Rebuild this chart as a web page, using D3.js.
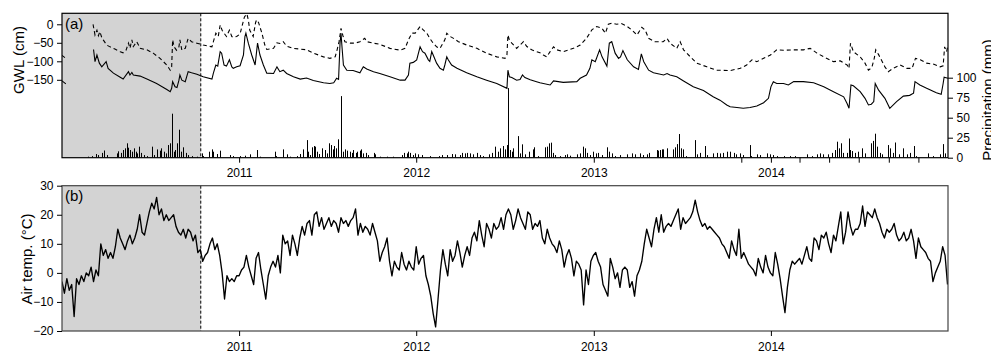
<!DOCTYPE html>
<html>
<head>
<meta charset="utf-8">
<script src="https://cdn.jsdelivr.net/npm/d3@7"></script>
<style>
    body { margin: 0; background: #fff; }
    svg { font-family: "Liberation Sans", Arial, sans-serif; }
    .axis text { font-size: 12px; fill: #000; }
    .axis line { stroke: #000; }
    .panel-label, .axis-title { font-size: 15px; fill: #000; }
</style>
</head>
<body>
<svg id="chart"></svg>
<script>
// ---- data ----
const startDay = '2010-01-01';
const endDay = '2015-01-01';
const shadeEnd = '2010-10-14';   // end of grey (calibration) period

// groundwater level [days since start, cm], null = gap in record
const gwlSolid = [[0,-153],[8,-161],[30,null],
    [65,-68],[68,-101],[72,-83],[77,-105],[82,-115],[91,-101],[95,-119],[106,-132],[120,-143],[126,-148],[137,-128],[140,-137],[144,-130],[147,-137],[161,-140],[175,-148],[195,-160],[216,-176],[223,-182],[226,-173],[228,-155],[233,-169],[237,-171],[241,-151],[243,-137],[247,-151],[254,-155],[260,-128],[267,-131],[278,-135],[291,-142],[309,-148],[312,-132],[317,-110],[321,-113],[326,-74],[329,-78],[334,-110],[339,-113],[345,-96],[350,-115],[353,-119],[360,-115],[367,-112],
    [374,-83],[377,-33],[379,-24],[384,-51],[391,-83],[398,-110],[403,-51],[408,-83],[415,-110],[422,-132],[436,-133],[443,-115],[449,-128],[456,-124],[463,-133],[477,-142],[491,-148],[504,-145],[518,-152],[539,-158],[552,-160],[560,-158],[566,-146],[570,-149],[573,-51],[575,-24],[577,-60],[580,-110],[587,-124],[600,-125],[614,-131],[621,-115],[628,-121],[642,-128],[655,-133],[676,-142],[697,-151],[707,-151],[714,-137],[717,-105],[724,-103],
    [731,-96],[738,-61],[743,-74],[748,-78],[755,-96],[758,-100],[762,-74],[765,-83],[772,-105],[779,-119],[786,-124],[789,-110],[793,-88],[796,-96],[803,-110],[814,-119],[834,-131],[855,-142],[875,-151],[896,-160],[917,-173],[919,-124],[922,-142],[927,-144],[937,-151],[944,-149],[949,-137],[954,-144],[965,-150],[978,-155],[985,-158],[1006,-164],[1013,-153],[1033,-157],[1061,-155],[1068,-146],[1081,-137],[1088,-119],
    [1092,-96],[1099,-101],[1108,-69],[1113,-88],[1123,-113],[1128,-51],[1133,-47],[1140,-78],[1147,-92],[1151,-88],[1156,-71],[1165,-96],[1178,-115],[1188,-122],[1194,-80],[1199,-101],[1209,-124],[1219,-131],[1240,-137],[1247,-133],[1253,-137],[1267,-142],[1281,-153],[1301,-169],[1322,-179],[1342,-196],[1356,-205],[1370,-218],[1377,-223],[1391,-225],[1404,-227],[1418,-225],[1432,-221],[1446,-212],[1456,-200],
    [1461,-169],[1466,-155],[1473,-160],[1487,-160],[1497,-164],[1508,-155],[1528,-155],[1549,-158],[1570,-169],[1590,-182],[1611,-196],[1618,-214],[1622,-227],[1626,-164],[1631,-166],[1645,-182],[1655,-200],[1662,-218],[1668,-216],[1673,-209],[1676,-160],[1683,-178],[1696,-200],[1706,-227],[1720,-209],[1734,-194],[1747,-192],[1755,-186],[1758,-155],[1768,-164],[1782,-173],[1802,-185],[1812,-189],[1816,-160],[1818,-143],[1826,-146]];

const gwlDashed = [[0,-84],[6,-90],[30,null],
    [64,0],[68,-29],[72,-16],[75,-31],[78,-20],[82,-36],[85,-42],[92,-56],[99,-61],[109,-67],[120,-74],[126,-77],[132,-70],[137,-51],[140,-65],[144,-42],[147,-60],[154,-47],[161,-65],[175,-69],[188,-78],[202,-92],[216,-110],[223,-124],[226,-115],[228,-42],[231,-61],[236,-70],[241,-61],[243,-42],[247,-70],[254,-65],[260,-38],[267,-47],[278,-51],[291,-56],[309,-61],[312,-47],[317,-24],[322,-33],[326,-2],[330,-16],[334,-24],[339,-33],[345,-16],[350,-33],[353,-35],[360,-33],[367,-26],
    [372,0],[376,20],[381,28],[384,12],[387,-16],[394,-33],[399,5],[401,12],[405,5],[412,-24],[418,-56],[422,-68],[436,-65],[443,-50],[449,-52],[456,-47],[463,-59],[477,-65],[491,-67],[504,-69],[518,-78],[539,-88],[552,-92],[563,-88],[567,-69],[571,-47],[575,-11],[579,-31],[583,-47],[594,-51],[604,-51],[614,-47],[624,-38],[628,-47],[642,-51],[655,-54],[676,-65],[697,-70],[707,-65],[714,-42],[721,-24],[728,-24],
    [738,-6],[745,-16],[752,-24],[758,-38],[765,-51],[772,-61],[779,-65],[789,-42],[793,-24],[800,-33],[807,-38],[817,-47],[834,-56],[855,-65],[875,-78],[896,-88],[913,-92],[917,-83],[919,-29],[922,-42],[927,-51],[937,-65],[948,-51],[951,-47],[958,-60],[968,-69],[978,-74],[985,-77],[992,-83],[999,-88],[1006,-74],[1013,-61],[1020,-69],[1033,-74],[1054,-65],[1068,-56],[1081,-38],
    [1092,-15],[1102,-6],[1113,-11],[1120,-24],[1126,0],[1133,3],[1143,0],[1153,2],[1165,-6],[1175,-16],[1185,-29],[1195,-8],[1202,-16],[1209,-38],[1222,-47],[1239,-47],[1247,-38],[1253,-51],[1267,-65],[1274,-47],[1281,-69],[1295,-88],[1308,-105],[1329,-115],[1349,-124],[1377,-125],[1398,-119],[1411,-110],[1422,-96],[1432,-101],[1446,-92],
    [1460,-83],[1473,-69],[1487,-70],[1508,-69],[1528,-69],[1542,-65],[1556,-78],[1570,-88],[1590,-101],[1604,-99],[1618,-110],[1622,-119],[1625,-51],[1631,-74],[1645,-88],[1655,-105],[1662,-124],[1669,-117],[1674,-92],[1677,-69],[1683,-82],[1696,-115],[1703,-128],[1713,-119],[1727,-110],[1741,-119],[1752,-119],[1759,-92],[1769,-96],[1782,-105],[1797,-108],[1810,-115],[1816,-112],[1819,-61],[1823,-74],[1826,-56]];

// daily precipitation [days since start, mm]
const precip = [[54,1.3],[61,2],[71,4.6],[75,3.3],[82,6],[87,9],[92,3.3],[113,5.4],[116,8],[122,6],[126,9.6],[130,11.7],[133,18],[137,12.5],[140,9.6],[144,7.5],[148,11.7],[153,7.5],[155,5.4],[159,13.8],[162,6],[168,3.3],[175,2],[185,13.8],[190,3.3],[195,10.4],[201,8.8],[205,11.7],[210,7.5],[214,5.4],[219,15.8],[223,18],[226,55],[230,7.5],[233,9.6],[236,18],[242,35],[245,7.5],[250,13],[256,6],[260,3.3],[267,2],[278,1.3],[288,5.4],[291,2],[302,7.5],[309,10.4],[312,7.5],[319,4.6],[326,8.8],[346,3.3],[353,2],
    [367,2],[377,2.5],[388,4.2],[401,9.6],[408,1.3],[439,7.5],[442,2],[456,10.4],[463,4.2],[470,1.3],[484,2],[491,4.6],[497,10.4],[504,22],[508,7.5],[511,3.3],[515,13],[519,14.6],[521,13.8],[525,7.5],[530,4.6],[535,11.7],[542,9.6],[546,5.4],[550,18],[554,15.8],[558,10.4],[561,14.6],[564,11.7],[568,23],[575,77],[580,7.5],[583,10.4],[588,8.8],[594,7.5],[597,6],[600,9.6],[606,6],[609,7.5],[614,8.8],[617,10.4],[621,5.4],[626,6],[631,3.3],[642,6],[645,4.2],[655,1.3],[669,1.3],[683,1.3],[700,3.3],[704,6],[710,5.4],[714,7.5],[717,6],[724,3.3],[728,5.4],
    [734,4.2],[741,3.3],[758,2],[776,2],[783,3.3],[793,3.3],[803,4.6],[810,4.2],[820,3.3],[824,6],[831,5.4],[834,6],[841,5.4],[848,4.2],[855,6],[862,3.3],[868,2],[879,4.2],[886,6],[892,13.8],[899,7.5],[903,11.7],[908,14.6],[913,10.4],[917,15.8],[919,87],[923,9.6],[927,7.5],[930,11.7],[940,27],[944,5.4],[949,16.7],[954,4.2],[963,7.5],[970,10.4],[973,13],[982,2],[995,13],[1000,13.8],[1004,18],[1007,18.8],[1011,6],[1016,3.3],[1026,2],[1037,3.3],[1040,4.2],[1047,2.5],[1061,4.2],[1068,5.4],[1073,13.8],[1078,11.7],[1083,6],[1088,3.3],
    [1095,7.5],[1101,5.4],[1105,6],[1112,3.3],[1124,13],[1128,7.5],[1133,5.4],[1140,2],[1150,3.3],[1164,4.2],[1174,5.4],[1181,4.2],[1191,5.4],[1198,3.3],[1205,4.2],[1210,6],[1226,9.6],[1229,8.8],[1232,9.6],[1236,10.4],[1239,10.4],[1246,11.7],[1260,10.4],[1263,13],[1267,17],[1272,29.6],[1275,11.7],[1279,10.4],[1287,2],[1305,22],[1309,4.2],[1315,6],[1325,14.6],[1329,3.3],[1342,5.4],[1349,6],[1356,5.4],[1363,6],[1370,7.5],[1377,7.5],[1384,6],[1390,4.2],[1397,5.4],[1404,3.3],[1418,15.8],[1421,2],[1432,4.2],[1439,3.3],[1452,5.4],
    [1459,4.2],[1466,3.3],[1473,2],[1487,2],[1500,2],[1511,2],[1535,4.2],[1545,2],[1555,4.2],[1562,5.4],[1569,4.2],[1579,4.2],[1586,6],[1593,9.6],[1598,20],[1602,11.7],[1605,18],[1610,6],[1617,6],[1622,24],[1625,9.6],[1629,8.3],[1634,6],[1641,7.5],[1648,11.7],[1655,5.4],[1667,18],[1671,21],[1675,30],[1679,13.8],[1685,6],[1689,4.2],[1702,15.8],[1707,11.7],[1712,6],[1717,19],[1724,4.2],[1734,11.7],[1741,4.2],[1748,6],[1755,14.6],[1761,2],[1785,5.4],[1796,2],[1810,4.2],[1816,17],[1820,5.4]];

// air temperature, one value every tempStep days from startDay (°C)
const tempStep = 5;
const airTemp = [-3,-7,-2,-6,-4,-15,-2,-4,-1,-3, 0,-1,2,-3,1,-1,10,6,8,5, 7,5,9,15,12,10,8,11,13,10,
    12,15,20,14,13,17,21,24,22,26, 20,22,18,20,18,19,20,16,14,13, 15,12,15,14,11,13,7,8,4,6,
    7,10,12,8,10,6,0,-9,-1,-3, -2,-3,-1,-1,1,2,6,2,-1,-4, 5,7,1,-4,-9,-1,2,4,2,6,
    0,13,10,11,6,13,10,6,12,16, 13,17,18,13,20,21,16,19,15,17, 19,16,18,17,14,19,17,18,16,18,
    19,22,13,17,14,16,15,13,17,14, 11,4,7,9,12,4,-1,4,2,1, 7,3,1,4,2,1,9,3,5,6,
    -1,-4,-8,-14,-18.6,-9,1,8,3,-1, 8,4,6,11,7,2,6,9,6,12, 14,11,18,13,9,17,15,12,17,15,
    16,19,15,20,22,20,15,18,22,19, 17,15,21,20,15,17,16,18,12,10, 15,12,10,9,7,11,8,2,6,8,
    5,-1,4,3,1,-11,1,-4,4,6, 7,4,2,-4,-6,-8,5,2,-2,0, -5,1,2,1,-5,-3,-8,-1,1,4,
    10,15,12,9,15,19,14,20,14,16, 17,16,18,20,22,15,19,17,18,19, 21,25,21,18,16,17,15,16,15,14,
    13,12,10,9,7,5,11,8,6,15, 5,7,5,3,2,1,-1,5,2,0, 6,2,0,-1,7,3,-2,-8,-13.7,-5,
    1,4,3,4,5,3,6,9,5,4, 12,11,8,13,12,14,10,7,13,11, 16,21,10,14,21,16,13,15,15,17,
    23,16,21,20,19,22,19,17,14,12, 15,14,15,17,13,11,12,14,11,12, 15,11,5,12,9,8,7,5,4,-3,
    0,2,4,9,6,-4];

// axis ticks
const gwlTicks = [0, -50, -100, -150];
const precipTicks = [0, 25, 50, 75, 100];
const tempTicks = [-20, -10, 0, 10, 20, 30];
const yearTicks = ['2011-01-01', '2012-01-01', '2013-01-01', '2014-01-01'];
const yearLabels = ['2011', '2012', '2013', '2014'];
const minorTicksA = ['2013-11-01', '2014-03-01', '2014-05-01', '2014-07-01', '2014-09-01', '2014-11-01'];

// ---- setup ----
const parseDay = d3.utcParse('%Y-%m-%d');
const t0 = parseDay(startDay);
const dayToDate = d => d3.utcDay.offset(t0, d);

const svg = d3.select('#chart')
    .attr('width', 991)
    .attr('height', 353);

const left = 62, plotWidth = 886;

const xScale = d3.scaleUtc()
    .domain([t0, parseDay(endDay)])
    .range([0, plotWidth]);

const labelFor = d => yearLabels[yearTicks.indexOf(d3.utcFormat('%Y-%m-%d')(d))] || '';

// draws shading, clip path and returns panel group
function makePanel(id, top, height) {
    const g = svg.append('g').attr('transform', `translate(${left},${top})`);

    g.append('clipPath').attr('id', `clip-${id}`)
        .append('rect').attr('width', plotWidth).attr('height', height);

    const xShade = xScale(parseDay(shadeEnd));
    g.append('rect')
        .attr('width', xShade)
        .attr('height', height)
        .attr('fill', '#d3d3d3');

    g.append('line')
        .attr('x1', xShade).attr('x2', xShade)
        .attr('y1', 0).attr('y2', height)
        .attr('stroke', '#000')
        .attr('stroke-dasharray', '3,2');

    return g;
}

function addXAxis(g, height, tickDates, pad) {
    const xAxis = d3.axisBottom(xScale)
        .tickValues(tickDates)
        .tickFormat(labelFor)
        .tickSize(5)
        .tickPadding(pad);
    g.append('g')
        .attr('class', 'axis x-axis')
        .attr('transform', `translate(0,${height})`)
        .call(xAxis)
        .call(a => a.select('.domain').remove());
}

// ---- panel (a): groundwater level + precipitation ----
const hA = 144.4;
const gA = makePanel('a', 13.3, hA);

const gwlScale = d3.scaleLinear().domain([-360.5, 29.7]).range([hA, 0]);
const precipScale = d3.scaleLinear().domain([0, 180.5]).range([hA, 0]);

const marksA = gA.append('g').attr('clip-path', 'url(#clip-a)');

marksA.selectAll('.rain')
    .data(precip)
    .join('line')
    .attr('class', 'rain')
    .attr('x1', d => Math.round(xScale(dayToDate(d[0]))) + 0.5)
    .attr('x2', d => Math.round(xScale(dayToDate(d[0]))) + 0.5)
    .attr('y1', precipScale(0))
    .attr('y2', d => precipScale(d[1]))
    .attr('stroke', '#000')
    .attr('stroke-width', 1);

const gwlLine = d3.line()
    .defined(d => d[1] != null)
    .x(d => xScale(dayToDate(d[0])))
    .y(d => gwlScale(d[1]));

marksA.append('path')
    .datum(gwlSolid)
    .attr('d', gwlLine)
    .attr('fill', 'none')
    .attr('stroke', '#000')
    .attr('stroke-width', 1.1);

marksA.append('path')
    .datum(gwlDashed)
    .attr('d', gwlLine)
    .attr('fill', 'none')
    .attr('stroke', '#000')
    .attr('stroke-width', 1.1)
    .attr('stroke-dasharray', '4,3');

gA.append('rect')
    .attr('width', plotWidth).attr('height', hA)
    .attr('fill', 'none').attr('stroke', '#000').attr('stroke-width', 1.2);

gA.append('g')
    .attr('class', 'axis y-axis')
    .call(d3.axisLeft(gwlScale).tickValues(gwlTicks).tickSize(5).tickPadding(3.5))
    .call(a => a.select('.domain').remove());

gA.append('g')
    .attr('class', 'axis y-axis-right')
    .attr('transform', `translate(${plotWidth},0)`)
    .call(d3.axisRight(precipScale).tickValues(precipTicks).tickSize(5).tickPadding(3.5))
    .call(a => a.select('.domain').remove());

addXAxis(gA, hA, yearTicks.map(parseDay).concat(minorTicksA.map(parseDay)), 5.5);

gA.append('text').attr('class', 'panel-label')
    .attr('x', 3).attr('y', 15.3).text('(a)');

svg.append('text').attr('class', 'axis-title')
    .attr('transform', 'translate(993,100) rotate(-90)')
    .attr('text-anchor', 'middle')
    .text('Precipitation (mm)');

svg.append('text').attr('class', 'axis-title')
    .attr('transform', 'translate(23.5,60) rotate(-90)')
    .attr('text-anchor', 'middle')
    .text('GWL (cm)');

// ---- panel (b): air temperature ----
const hB = 145.3;
const gB = makePanel('b', 185.7, hB);

const tempScale = d3.scaleLinear().domain([-20, 30]).range([hB, 0]);

const tempLine = d3.line()
    .x((d, i) => xScale(dayToDate(i * tempStep)))
    .y(d => tempScale(d));

gB.append('g').attr('clip-path', 'url(#clip-b)')
    .append('path')
    .datum(airTemp)
    .attr('d', tempLine)
    .attr('fill', 'none')
    .attr('stroke', '#000')
    .attr('stroke-width', 1.35)
    .attr('stroke-linejoin', 'round');

gB.append('rect')
    .attr('width', plotWidth).attr('height', hB)
    .attr('fill', 'none').attr('stroke', '#444').attr('stroke-width', 1.2);

gB.append('g')
    .attr('class', 'axis y-axis')
    .call(d3.axisLeft(tempScale).tickValues(tempTicks).tickSize(5).tickPadding(3.5))
    .call(a => a.select('.domain').remove());

addXAxis(gB, hB, yearTicks.map(parseDay), 6.3);

gB.append('text').attr('class', 'panel-label')
    .attr('x', 3).attr('y', 15.8).text('(b)');

svg.append('text').attr('class', 'axis-title')
    .attr('transform', 'translate(31.5,259) rotate(-90)')
    .attr('text-anchor', 'middle')
    .text('Air temp. (°C)');
</script>
</body>
</html>
